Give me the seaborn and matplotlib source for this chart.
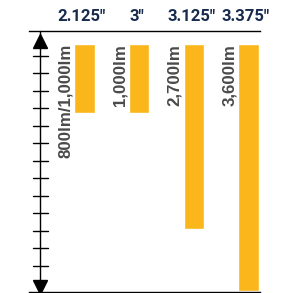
import numpy as np
import pandas as pd
import seaborn as sns
import matplotlib.pyplot as plt
import matplotlib.transforms as mtransforms

# 数据
sizes = ['2.125"', '3"', '3.125"', '3.375"']
lumens = [1000, 1000, 2700, 3600]
lumen_labels = ['800lm/1,000lm', '1,000lm', '2,700lm', '3,600lm']

df = pd.DataFrame({'size': sizes, 'lumens': lumens})

sns.set_style('white')
plt.rcParams['font.family'] = ['Liberation Sans', 'DejaVu Sans']

fig = plt.figure(figsize=(2.98, 2.93), dpi=100)
ax = fig.add_axes([28.5 / 298, 1 / 293, 231.5 / 298, 261 / 293])

bar_w = 0.375
sns.barplot(data=df, x='size', y='lumens', order=sizes, color='#FBB61B',
            saturation=1, width=bar_w, ax=ax)

# 坐标范围：0 在顶部，向下增长
px_per_lm = 247 / 3600
ax.set_ylim((261 - 13) / px_per_lm, -13 / px_per_lm)
ax.set_xlim(-1.024, 3.21)

# 只保留上下两条线
for s in ['left', 'right']:
    ax.spines[s].set_visible(False)
for s in ['top', 'bottom']:
    ax.spines[s].set_linewidth(1.0)
    ax.spines[s].set_color('black')
ax.set_xticks([])
ax.set_yticks([])
ax.set_xlabel('')
ax.set_ylabel('')

# 顶部尺寸标签
trans = mtransforms.blended_transform_factory(ax.transData, ax.transAxes)
for i, s in enumerate(sizes):
    ax.text(i - 0.05, 1.056, s, transform=trans, ha='center', va='center',
            fontsize=12, fontweight='bold', color='#172B4D',
            family=['Roboto', 'DejaVu Sans'])

# 竖排流明标签
for i, lab in enumerate(lumen_labels):
    ax.annotate(lab, xy=(i - bar_w / 2, 0), xytext=(-1, 0),
                textcoords='offset points', rotation=90, ha='right', va='top',
                fontsize=12.2, fontweight='bold', color='#4A4A4A')

# 左侧带箭头的刻度尺
rx = (40 - 28.5) / 231.5
ruler = mtransforms.blended_transform_factory(ax.transAxes, ax.transAxes)
ax.plot([rx, rx], [0, 1], transform=ruler, color='black', lw=1.0, clip_on=False)
ax.plot([rx], [0.962], marker='^', ms=10, color='black', transform=ruler, clip_on=False)
ax.plot([rx], [0.019], marker='v', ms=10, color='black', transform=ruler, clip_on=False)
for t in np.linspace(0.1, 0.905, 13):
    ax.plot([rx - 7.5 / 231.5, rx + 7.5 / 231.5], [t, t], transform=ruler,
            color='black', lw=1.0, clip_on=False)

plt.savefig('out.png', dpi=100)
